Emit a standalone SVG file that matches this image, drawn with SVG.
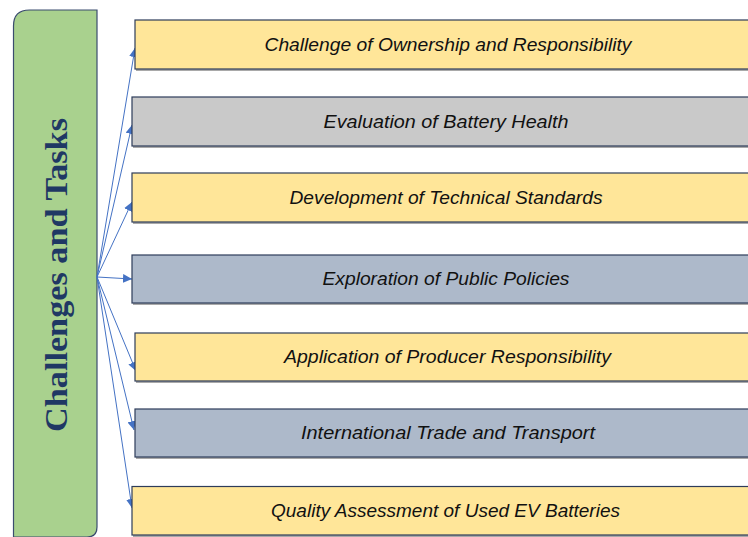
<svg xmlns="http://www.w3.org/2000/svg" width="748" height="537" viewBox="0 0 748 537">
  <defs>
    <marker id="arrow" viewBox="0 0 10 10" refX="10" refY="5" markerWidth="9" markerHeight="9" markerUnits="userSpaceOnUse" orient="auto">
      <path d="M0,0 L10,5 L0,10 z" fill="#4472C4"/>
    </marker>
    <style>
      .item rect { stroke: #2E3C5A; stroke-width: 1.2; }
      .shadow { fill: none; stroke: #8C8C8C; stroke-width: 1.5; }
      .yellow { fill: #FFE699; }
      .grey { fill: #C9C9C9; }
      .slate { fill: #ADB9CA; }
      .label { font-family: "Liberation Sans", Arial, sans-serif; font-style: italic; font-size: 18px; fill: #111; text-anchor: middle; }
      .conn { stroke: #4472C4; stroke-width: 1; fill: none; marker-end: url(#arrow); }
    </style>
  </defs>
  <rect width="748" height="537" fill="#FFFFFF"/>

  <!-- Left header panel -->
  <g id="header">
    <path d="M13.5,26 Q13.5,10 29.5,10 L97,10 L97,527 Q97,537 87,537 L13.5,537 Z" fill="#A9D18E" stroke="#3A4C6E" stroke-width="1.2"/>
    <text transform="translate(67,275) rotate(-90)" font-family="'Liberation Serif', 'Times New Roman', serif" font-weight="bold" font-size="31" fill="#1F3864" text-anchor="middle" textLength="314" lengthAdjust="spacingAndGlyphs">Challenges and Tasks</text>
  </g>

  <!-- Connectors -->
  <g id="connectors">
    <line class="conn" x1="97" y1="277" x2="135" y2="48"/>
    <line class="conn" x1="97" y1="277" x2="132" y2="125"/>
    <line class="conn" x1="97" y1="277" x2="132" y2="202"/>
    <line class="conn" x1="97" y1="277" x2="132" y2="279"/>
    <line class="conn" x1="97" y1="277" x2="136" y2="371"/>
    <line class="conn" x1="97" y1="277" x2="134" y2="430"/>
    <line class="conn" x1="97" y1="277" x2="132" y2="508"/>
  </g>

  <!-- Items -->
  <g id="item1" class="item">
    <line class="shadow" x1="136" y1="70" x2="760" y2="70"/>
    <rect class="yellow" x="135" y="20" width="625" height="49"/>
    <text class="label" x="448" y="50.5" textLength="367" lengthAdjust="spacingAndGlyphs">Challenge of Ownership and Responsibility</text>
  </g>
  <g id="item2" class="item">
    <line class="shadow" x1="133" y1="147" x2="760" y2="147"/>
    <rect class="grey" x="132" y="97" width="628" height="49"/>
    <text class="label" x="446" y="127.5" textLength="245" lengthAdjust="spacingAndGlyphs">Evaluation of Battery Health</text>
  </g>
  <g id="item3" class="item">
    <line class="shadow" x1="133" y1="223" x2="760" y2="223"/>
    <rect class="yellow" x="132" y="173" width="628" height="49"/>
    <text class="label" x="446" y="203.5" textLength="313" lengthAdjust="spacingAndGlyphs">Development of Technical Standards</text>
  </g>
  <g id="item4" class="item">
    <line class="shadow" x1="133" y1="304" x2="760" y2="304"/>
    <rect class="slate" x="132" y="255" width="628" height="48"/>
    <text class="label" x="446" y="285" textLength="247" lengthAdjust="spacingAndGlyphs">Exploration of Public Policies</text>
  </g>
  <g id="item5" class="item">
    <line class="shadow" x1="136" y1="382" x2="760" y2="382"/>
    <rect class="yellow" x="135" y="333" width="625" height="48"/>
    <text class="label" x="447.5" y="363" textLength="327" lengthAdjust="spacingAndGlyphs">Application of Producer Responsibility</text>
  </g>
  <g id="item6" class="item">
    <line class="shadow" x1="136" y1="458" x2="760" y2="458"/>
    <rect class="slate" x="135" y="409" width="625" height="48"/>
    <text class="label" x="448" y="439" textLength="294" lengthAdjust="spacingAndGlyphs">International Trade and Transport</text>
  </g>
  <g id="item7" class="item">
    <line class="shadow" x1="133" y1="536" x2="760" y2="536"/>
    <rect class="yellow" x="132" y="486.5" width="628" height="48.5"/>
    <text class="label" x="445.5" y="516.5" textLength="349" lengthAdjust="spacingAndGlyphs">Quality Assessment of Used EV Batteries</text>
  </g>
</svg>
